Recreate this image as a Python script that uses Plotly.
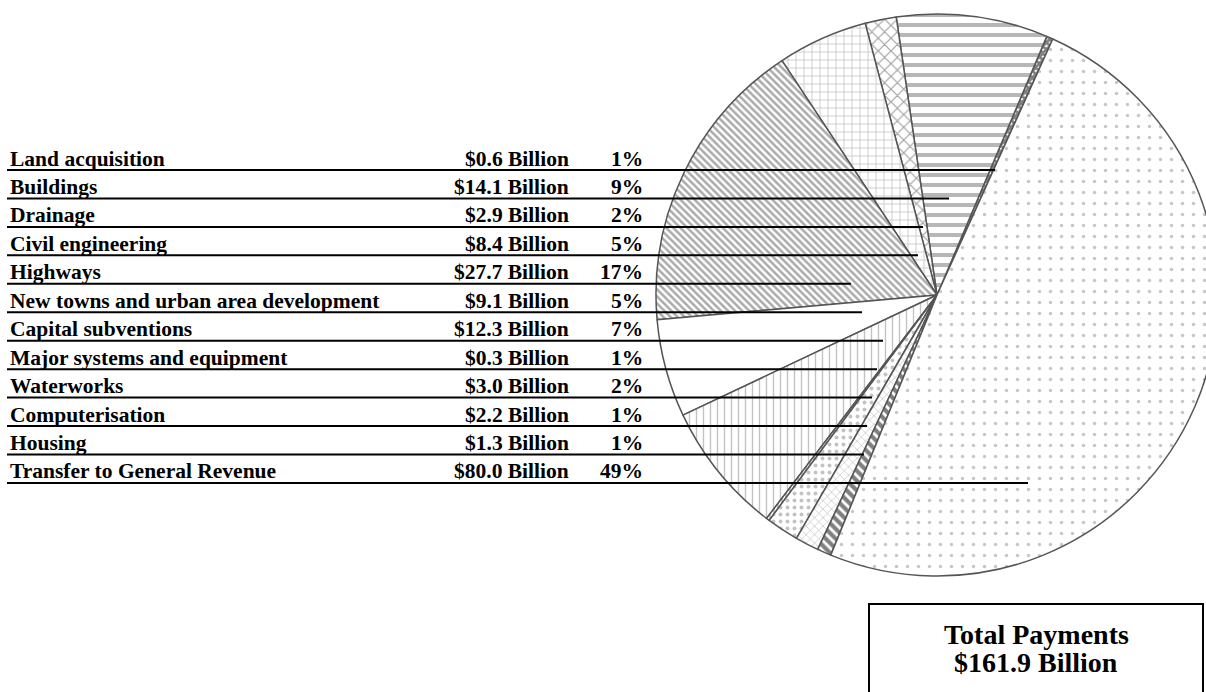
import plotly.graph_objects as go

# ---------------- data ----------------
categories = [
    "Land acquisition",
    "Buildings",
    "Drainage",
    "Civil engineering",
    "Highways",
    "New towns and urban area development",
    "Capital subventions",
    "Major systems and equipment",
    "Waterworks",
    "Computerisation",
    "Housing",
    "Transfer to General Revenue",
]
values_billion = [0.6, 14.1, 2.9, 8.4, 27.7, 9.1, 12.3, 0.3, 3.0, 2.2, 1.3, 80.0]
value_labels = ["$0.6 Billion", "$14.1 Billion", "$2.9 Billion", "$8.4 Billion",
                "$27.7 Billion", "$9.1 Billion", "$12.3 Billion", "$0.3 Billion",
                "$3.0 Billion", "$2.2 Billion", "$1.3 Billion", "$80.0 Billion"]
pct_labels = ["1%", "9%", "2%", "5%", "17%", "5%", "7%", "1%", "2%", "1%", "1%", "49%"]
total_title = "Total Payments"
total_label = "$161.9 Billion"

# ---------------- styles / layout ----------------
W, H = 1224, 700          # figure size (page shows the 1206x692 window)
OX, OY = 0, 0             # page body margin (set to 0 below)
FONT = "Liberation Serif, Times New Roman, serif"

pat_shapes = ["x", "-", "x", "+", "\\", "", "|", "|", ".", "x", "\\", "."]
pat_fg = ["#000000", "#707070", "#444444", "#999999", "#555555", "#ffffff",
          "#888888", "#555555", "#888888", "#666666", "#000000", "#909090"]
pat_size = [5, 10, 9, 8, 5, 8, 7, 4, 7, 6, 7, 11]
pat_solid = [0.8, 0.4, 0.25, 0.22, 0.5, 0.01, 0.2, 0.35, 0.25, 0.18, 0.6, 0.08]

# table rows (screen pixel positions)
row_line0 = 170.0
row_step = 28.45
line_x0 = 7
label_x = 8
value_right_x = 571
pct_right_x = 645
leader_end_x = [995, 949, 923, 918, 851, 862, 883, 877, 872, 867, 864, 1028]

def px(x):
    return (x - OX) / W

def py(y):
    return 1 - (y - OY) / H

pie_cx, pie_cy, pie_r = 937, 295, 281

fig = go.Figure()
fig.add_trace(go.Pie(
    labels=categories,
    values=values_billion,
    sort=False,
    direction="counterclockwise",
    rotation=23,
    textinfo="none",
    hoverinfo="label+value+percent",
    showlegend=False,
    domain=dict(x=[px(pie_cx - pie_r), px(pie_cx + pie_r)],
                y=[py(pie_cy + pie_r), py(pie_cy - pie_r)]),
    marker=dict(
        colors=["#ffffff"] * len(categories),
        line=dict(color="#555555", width=1.5),
        pattern=dict(shape=pat_shapes, fgcolor=pat_fg, bgcolor="#ffffff",
                     size=pat_size, solidity=pat_solid, fillmode="overlay"),
    ),
))

shapes = []
annotations = []
for i, cat in enumerate(categories):
    yl = row_line0 + row_step * i
    shapes.append(dict(type="line", xref="paper", yref="paper",
                       x0=px(line_x0), x1=px(leader_end_x[i]), y0=py(yl), y1=py(yl),
                       line=dict(color="black", width=2)))
    ty = py(yl - 11.5)
    common = dict(xref="paper", yref="paper", y=ty, yanchor="middle", showarrow=False,
                  font=dict(family=FONT, size=21.5, color="black", weight="bold"))
    annotations.append(dict(text=cat, x=px(label_x), xanchor="left", **common))
    annotations.append(dict(text=value_labels[i], x=px(value_right_x), xanchor="right", **common))
    annotations.append(dict(text=pct_labels[i], x=px(pct_right_x), xanchor="right", **common))

# total box
shapes.append(dict(type="rect", xref="paper", yref="paper",
                   x0=px(869), x1=px(1203), y0=py(604), y1=py(712),
                   line=dict(color="black", width=2), fillcolor="rgba(0,0,0,0)"))
annotations.append(dict(text=total_title, x=px(1036), y=py(634), xref="paper", yref="paper",
                        xanchor="center", yanchor="middle", showarrow=False,
                        font=dict(family=FONT, size=28, color="black", weight="bold")))
annotations.append(dict(text=total_label, x=px(1036), y=py(662), xref="paper", yref="paper",
                        xanchor="center", yanchor="middle", showarrow=False,
                        font=dict(family=FONT, size=28, color="black", weight="bold")))

fig.update_layout(
    width=W, height=H,
    margin=dict(l=0, r=0, t=0, b=0),
    paper_bgcolor="white", plot_bgcolor="white",
    shapes=shapes, annotations=annotations,
)

fig.write_html(
    "out.html",
    config={"displayModeBar": False},
    post_script="document.body.style.margin='0';"
                "document.documentElement.style.overflow='hidden';"
                "document.body.style.overflow='hidden';",
)
